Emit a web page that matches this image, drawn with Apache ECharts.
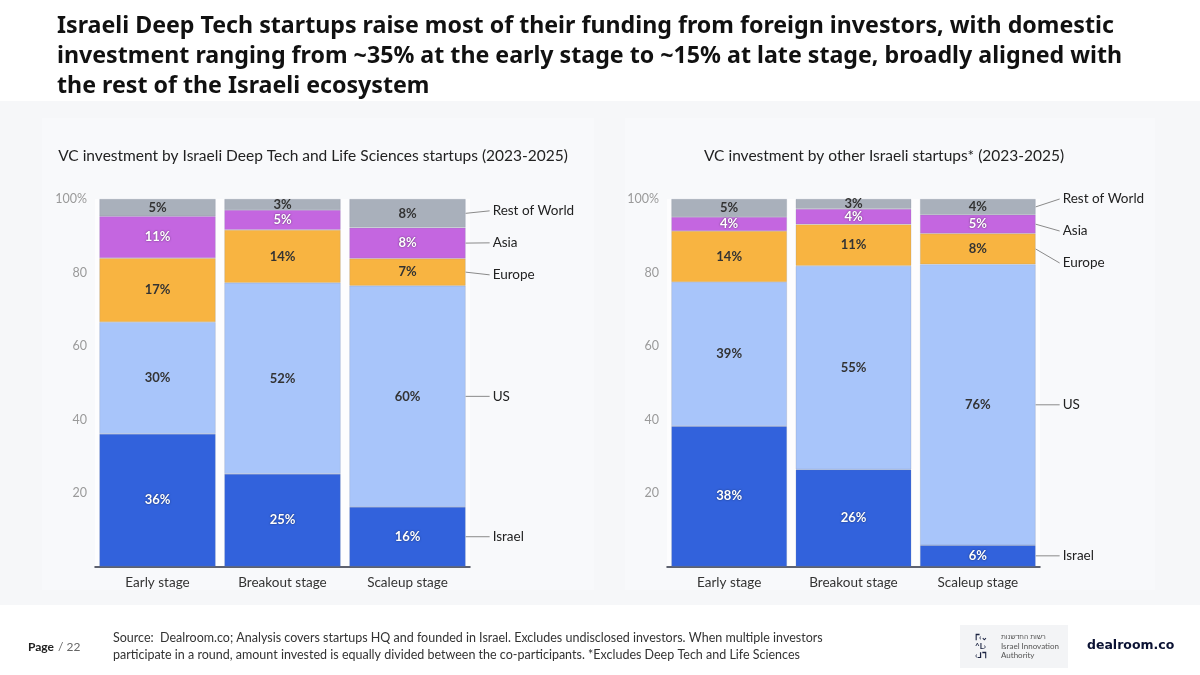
<!DOCTYPE html>
<html>
<head>
<meta charset="utf-8">
<script src="https://cdn.jsdelivr.net/npm/echarts@6/dist/echarts.min.js"></script>
<style>
html,body{margin:0;padding:0;background:#fff;}
#c{width:1200px;height:675px;}
</style>
</head>
<body>
<div id="c"></div>
<script>
// ---- Data ----
const categories = ['Early stage', 'Breakout stage', 'Scaleup stage'];
const seriesNames = ['Israel', 'US', 'Europe', 'Asia', 'Rest of World'];
const yTicks = [0, 20, 40, 60, 80, 100];

// Deep Tech & Life Sciences (left)
const dtIsrael = [36.1, 25.2, 16.2];
const dtUS = [30.4, 52.0, 60.2];
const dtEurope = [17.4, 14.4, 7.4];
const dtAsia = [11.4, 5.4, 8.4];
const dtRoW = [4.7, 3.0, 7.8];

// Other Israeli startups (right)
const otIsrael = [38.2, 26.4, 5.8];
const otUS = [39.2, 55.4, 76.4];
const otEurope = [13.9, 11.3, 8.4];
const otAsia = [3.8, 4.2, 5.1];
const otRoW = [4.9, 2.7, 4.3];

const leftTitle = 'VC investment by Israeli Deep Tech and Life Sciences startups (2023-2025)';
const rightTitle = 'VC investment by other Israeli startups* (2023-2025)';
const titleLines = [
  'Israeli Deep Tech startups raise most of their funding from foreign investors, with domestic',
  'investment ranging from ~35% at the early stage to ~15% at late stage, broadly aligned with',
  'the rest of the Israeli ecosystem'
];
const sourceLines = [
  'Source:  Dealroom.co; Analysis covers startups HQ and founded in Israel. Excludes undisclosed investors. When multiple investors',
  'participate in a round, amount invested is equally divided between the co-participants. *Excludes Deep Tech and Life Sciences'
];

// ---- Styles ----
const FONT = 'Lato, "Noto Sans", sans-serif';
const TITLE_FONT = '"Noto Sans", Lato, sans-serif';
const colors = ['#3262dc', '#a8c5fa', '#f8b441', '#c466e0', '#a9b0bb'];
const labelColors = ['#ffffff', '#333333', '#333333', '#ffffff', '#333333'];
const BAR_FRAC = 0.93;

function layoutLabels(ys, gap, top) {
  const idx = ys.map((y, i) => i).sort((a, b) => ys[a] - ys[b]);
  const cl = [];
  const fix = c => {
    const s = c.items.reduce((acc, k, j) => acc + ys[k] - j * gap, 0) / c.items.length;
    c.start = Math.max(top, s);
  };
  idx.forEach(i => {
    const c = { items: [i] };
    fix(c);
    cl.push(c);
    while (cl.length > 1) {
      const a = cl[cl.length - 2], b = cl[cl.length - 1];
      if (a.start + a.items.length * gap > b.start) {
        a.items = a.items.concat(b.items);
        cl.pop();
        fix(a);
      } else break;
    }
  });
  const out = [];
  cl.forEach(c => c.items.forEach((k, j) => { out[k] = c.start + j * gap; }));
  return out;
}

function buildSeries(arrays, gi) {
  const out = arrays.map((arr, k) => ({
    name: seriesNames[k],
    type: 'bar',
    stack: 's' + gi,
    xAxisIndex: gi,
    yAxisIndex: gi,
    barCategoryGap: ((1 - BAR_FRAC) * 100) + '%',
    data: arr,
    itemStyle: { color: colors[k], borderColor: 'rgba(120,130,150,0.35)', borderWidth: 0.6 },
    label: {
      show: true,
      position: 'inside',
      formatter: p => Math.round(p.value) + '%',
      color: labelColors[k],
      fontFamily: FONT,
      fontWeight: 'bold',
      fontSize: 13,
      textShadowColor: labelColors[k] === '#ffffff' ? 'rgba(0,0,0,0.55)' : 'transparent',
      textShadowBlur: labelColors[k] === '#ffffff' ? 2 : 0
    },
    emphasis: { disabled: true },
    animation: false
  }));
  // leader labels at the last category, anchored at segment midpoints
  const last = categories.length - 1;
  const mids = [];
  let cum = 0;
  arrays.forEach(arr => { mids.push(cum + arr[last] / 2); cum += arr[last]; });
  out.push({
    type: 'custom',
    xAxisIndex: gi,
    yAxisIndex: gi,
    data: mids.map((m, k) => [last, m, k]),
    silent: true,
    animation: false,
    z: 10,
    renderItem: function (params, api) {
      const k = params.dataIndex;
      const ys = mids.map(m => api.coord([last, m])[1]);
      const top = api.coord([last, 100])[1];
      const ly = layoutLabels(ys, 32, top);
      const halfW = api.size([1, 0])[0] * BAR_FRAC / 2;
      const x0 = api.coord([last, 0])[0] + halfW;
      return {
        type: 'group',
        children: [
          { type: 'line', shape: { x1: x0, y1: ys[k], x2: x0 + 24, y2: ly[k] },
            style: { stroke: '#8a8a8a', lineWidth: 1 } },
          { type: 'text', x: x0 + 27, y: ly[k],
            style: { text: seriesNames[k], fill: '#222', font: '13.5px ' + FONT,
                     textVerticalAlign: 'middle', textAlign: 'left' } }
        ]
      };
    }
  });
  return out;
}

const chart = echarts.init(document.getElementById('c'), null, { renderer: 'canvas' });

const grids = [
  { left: 95, top: 199, width: 375, height: 367.5, show: true, backgroundColor: '#fdfdfe', borderWidth: 0 },
  { left: 667, top: 199, width: 373, height: 367.5, show: true, backgroundColor: '#fdfdfe', borderWidth: 0 }
];

function xAxis(gi) {
  return {
    type: 'category', gridIndex: gi, data: categories,
    axisLine: { lineStyle: { color: '#2b3040', width: 1.5 } },
    axisTick: { show: false },
    axisLabel: { color: '#333', fontSize: 13.5, fontFamily: FONT, margin: 9 }
  };
}
function yAxis(gi) {
  return {
    type: 'value', gridIndex: gi, min: yTicks[0], max: yTicks[yTicks.length - 1], interval: 20,
    splitLine: { show: false },
    axisLine: { show: false },
    axisTick: { show: false },
    axisLabel: {
      color: '#9a9a9a', fontSize: 12.5, fontFamily: FONT, margin: 8,
      formatter: v => v === 0 ? '' : (v === 100 ? '100%' : String(v))
    }
  };
}

const graphics = [
  { type: 'rect', shape: { x: 0, y: 101, width: 1200, height: 504 }, style: { fill: '#f6f7f9' }, z: -10 },
  { type: 'rect', shape: { x: 42, y: 118, width: 552, height: 472 }, style: { fill: '#f8f9fb' }, z: -9 },
  { type: 'rect', shape: { x: 625, y: 118, width: 530, height: 472 }, style: { fill: '#f8f9fb' }, z: -9 },
  { type: 'text', x: 313, y: 156, style: { text: leftTitle, fill: '#222', font: '15.5px ' + FONT, textAlign: 'center', textVerticalAlign: 'middle' } },
  { type: 'text', x: 884, y: 156, style: { text: rightTitle, fill: '#222', font: '15.5px ' + FONT, textAlign: 'center', textVerticalAlign: 'middle' } },
  { type: 'text', x: 28, y: 647, style: { text: 'Page', fill: '#222', font: 'bold 12px ' + FONT, textVerticalAlign: 'middle' } },
  { type: 'text', x: 58, y: 647, style: { text: '/ 22', fill: '#666', font: '12px ' + FONT, textVerticalAlign: 'middle' } },
  { type: 'text', x: 113, y: 638, style: { text: sourceLines[0], fill: '#333', font: '12.5px ' + FONT, textVerticalAlign: 'middle' } },
  { type: 'text', x: 113, y: 655, style: { text: sourceLines[1], fill: '#333', font: '12.5px ' + FONT, textVerticalAlign: 'middle' } },
  { type: 'rect', shape: { x: 960, y: 625, width: 108, height: 43 }, style: { fill: '#f3f4f6' } },
  { type: 'text', x: 975, y: 637, style: { text: 'ᒥ‹⌄', fill: '#1a2240', font: 'bold 8px ' + FONT, textVerticalAlign: 'middle' } },
  { type: 'text', x: 975, y: 646, style: { text: '^L›', fill: '#1a2240', font: 'bold 8px ' + FONT, textVerticalAlign: 'middle' } },
  { type: 'text', x: 975, y: 655, style: { text: '‹⅃ᒣ', fill: '#1a2240', font: 'bold 8px ' + FONT, textVerticalAlign: 'middle' } },
  { type: 'text', x: 1001, y: 637, style: { text: 'רשות החדשנות', fill: '#555', font: '7px "Noto Sans", sans-serif', textVerticalAlign: 'middle' } },
  { type: 'text', x: 1001, y: 646, style: { text: 'Israel Innovation', fill: '#555', font: '8px ' + FONT, textVerticalAlign: 'middle' } },
  { type: 'text', x: 1001, y: 655, style: { text: 'Authority', fill: '#555', font: '8px ' + FONT, textVerticalAlign: 'middle' } },
  { type: 'text', x: 1087, y: 646, style: { text: 'dealroom.co', fill: '#0b1233', font: 'bold 12.5px "DejaVu Sans", sans-serif', textVerticalAlign: 'middle' } }
];
titleLines.forEach((t, i) => {
  graphics.push({ type: 'text', x: 57, y: 26 + i * 30,
    style: { text: t, fill: '#111', font: 'bold 23.2px ' + TITLE_FONT, textVerticalAlign: 'middle' } });
});

chart.setOption({
  backgroundColor: '#ffffff',
  animation: false,
  grid: grids,
  xAxis: [xAxis(0), xAxis(1)],
  yAxis: [yAxis(0), yAxis(1)],
  series: buildSeries([dtIsrael, dtUS, dtEurope, dtAsia, dtRoW], 0)
    .concat(buildSeries([otIsrael, otUS, otEurope, otAsia, otRoW], 1)),
  graphic: graphics
});
</script>
</body>
</html>
